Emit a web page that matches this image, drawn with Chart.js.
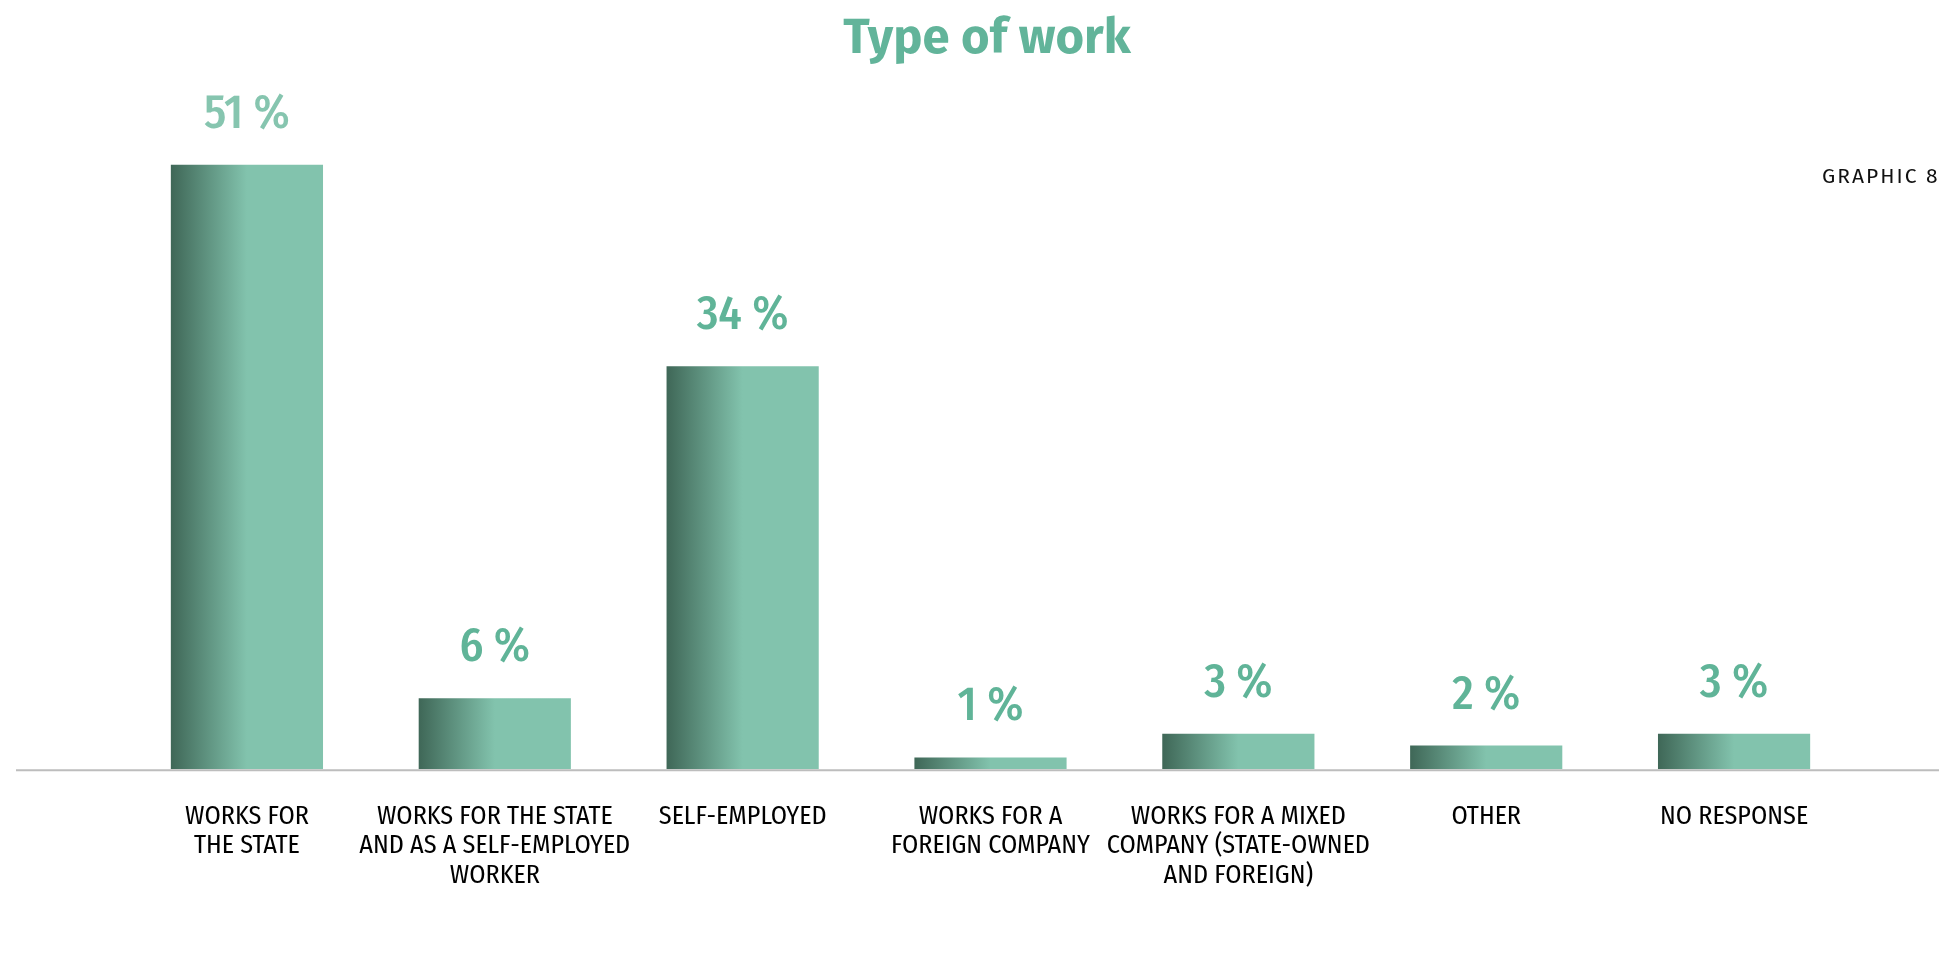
<!DOCTYPE html>
<html>
<head>
<meta charset="utf-8">
<title>Type of work</title>
<script src="https://cdn.jsdelivr.net/npm/chart.js@4.4.1/dist/chart.umd.min.js"></script>
<style>
  html, body { margin: 0; padding: 0; background: #fff; }
  #wrap { width: 1939px; height: 973px; }
</style>
</head>
<body>
<div id="wrap"><canvas id="canvas"></canvas></div>
<script>
const categories = [
  ["WORKS FOR", "THE STATE"],
  ["WORKS FOR THE STATE", "AND AS A SELF-EMPLOYED", "WORKER"],
  ["SELF-EMPLOYED"],
  ["WORKS FOR A", "FOREIGN COMPANY"],
  ["WORKS FOR A MIXED", "COMPANY (STATE-OWNED", "AND FOREIGN)"],
  ["OTHER"],
  ["NO RESPONSE"]
];
const shares = [51, 6, 34, 1, 3, 2, 3];
const yMax = 60;

const DARK = "#3f6757";
const LIGHT = "#82c3ad";
const LABEL_GREEN = "#60b498";
const CONDENSED = "'Fira Sans Condensed', 'Roboto Condensed', sans-serif";
const SANS = "'Fira Sans', 'Open Sans', sans-serif";

const canvas = document.getElementById("canvas");
const ctx = canvas.getContext("2d");

// each bar fades from dark on its left edge to light at its middle
function barFill(context) {
  const chart = context.chart;
  const xs = chart.scales.x;
  if (!chart.chartArea || !xs) return LIGHT;
  const bw = (xs.width / shares.length) * 0.614;
  const cx = xs.getPixelForValue(context.dataIndex);
  const g = chart.ctx.createLinearGradient(cx - bw / 2, 0, cx + bw / 2, 0);
  g.addColorStop(0, DARK);
  g.addColorStop(0.5, LIGHT);
  g.addColorStop(1, LIGHT);
  return g;
}

const decorations = {
  id: "decorations",
  afterDatasetsDraw(chart) {
    const c = chart.ctx;
    const y0 = chart.scales.y.getPixelForValue(0);

    // base line across the page
    c.save();
    c.strokeStyle = "#bdbdbd";
    c.lineWidth = 2;
    c.beginPath();
    c.moveTo(16, y0 + 1);
    c.lineTo(chart.width, y0 + 1);
    c.stroke();

    // percentages above bars
    c.font = "500 47px " + CONDENSED;
    c.textAlign = "center";
    c.textBaseline = "alphabetic";
    chart.getDatasetMeta(0).data.forEach((bar, i) => {
      c.fillStyle = i === 0 ? "#86c5af" : LABEL_GREEN;
      c.fillText(shares[i] + " %", bar.x, bar.y - 37);
    });

    // title
    c.font = "bold 49px " + SANS;
    c.fillStyle = "#62b49a";
    c.fillText("Type of work", 987, 53);

    // figure number
    c.font = "21px " + SANS;
    c.fillStyle = "#111";
    c.textAlign = "left";
    c.letterSpacing = "2px";
    c.fillText("GRAPHIC 8", 1822, 183);
    c.restore();
  }
};

new Chart(ctx, {
  type: "bar",
  data: {
    labels: categories,
    datasets: [{
      data: shares,
      backgroundColor: barFill,
      borderWidth: 0,
      categoryPercentage: 1,
      barPercentage: 0.614
    }]
  },
  options: {
    responsive: true,
    maintainAspectRatio: false,
    animation: false,
    layout: { padding: { top: 58, left: 123, right: 81, bottom: 50 } },
    plugins: {
      legend: { display: false },
      tooltip: { enabled: false }
    },
    scales: {
      y: { display: false, min: 0, max: yMax },
      x: {
        grid: { display: false, drawTicks: false },
        border: { display: false },
        ticks: {
          color: "#000",
          padding: 32,
          maxRotation: 0,
          autoSkip: false,
          font: { family: CONDENSED, size: 26, lineHeight: 1.15 }
        }
      }
    }
  },
  plugins: [decorations]
});
</script>
</body>
</html>
